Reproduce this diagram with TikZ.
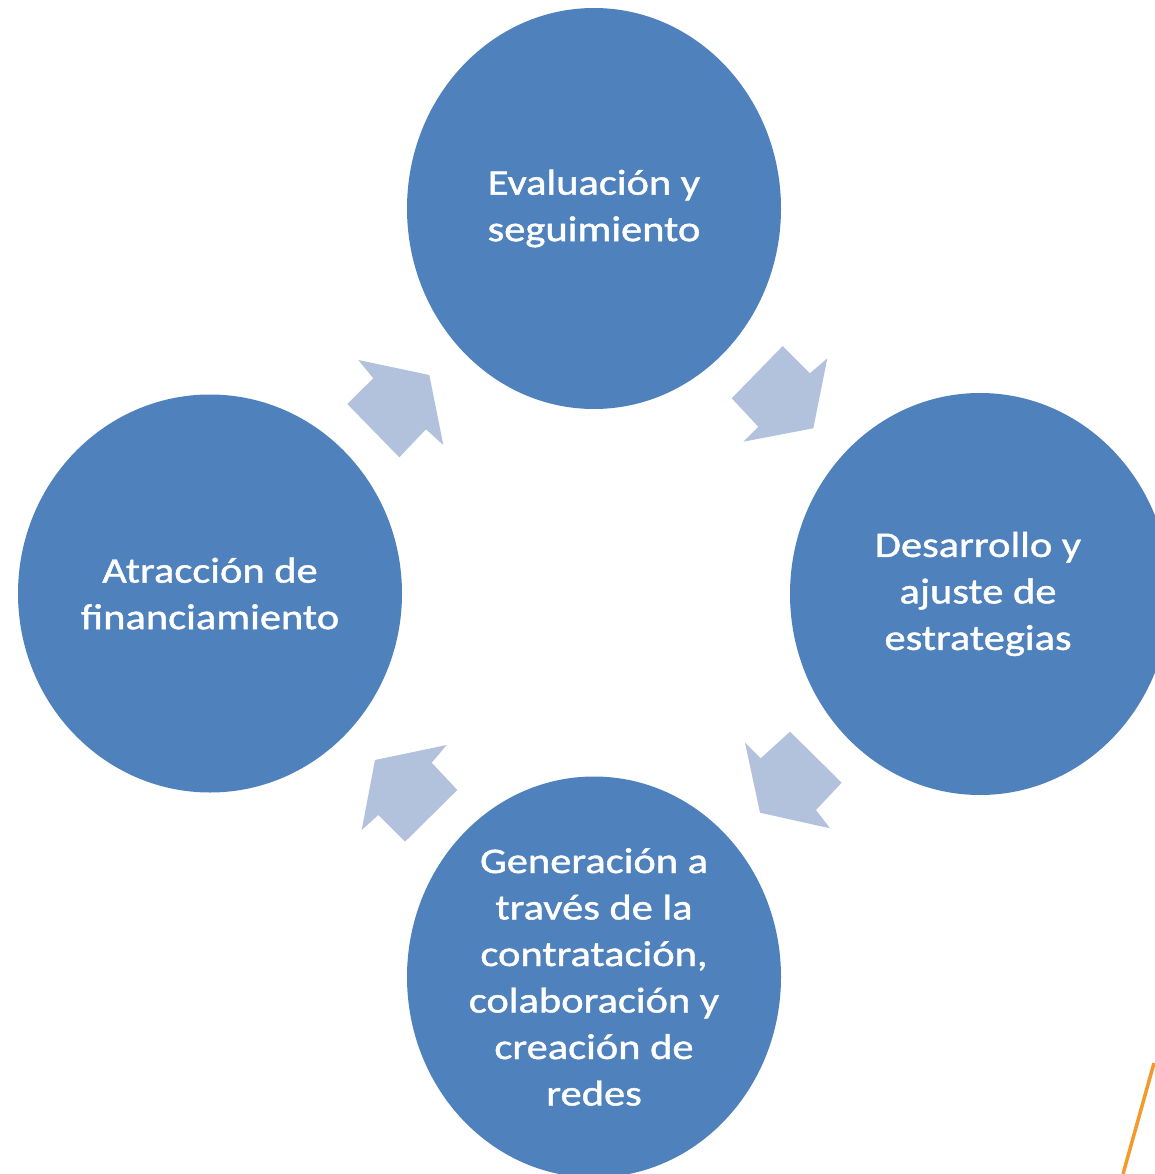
\documentclass[tikz,border=0pt]{standalone}
\usepackage{fontspec}
\setmainfont{Carlito}
\newfontfamily\stagefont[FakeStretch=1.18, FakeBold=1.2]{Carlito}
\usetikzlibrary{shapes.geometric}
\definecolor{cblue}{HTML}{4F81BD}
\definecolor{ablue}{HTML}{B3C2DC}
\definecolor{lorange}{HTML}{F39A2C}
\begin{document}
\begin{tikzpicture}[x=1pt,y=-1pt,
  stage/.style={ellipse, fill=cblue, draw=none, text=white, align=center,
    font=\stagefont\fontsize{36}{46.5}\selectfont, inner sep=0pt},
  blockarrow/.style={fill=ablue, draw=none}]
\useasboundingbox (0,0) rectangle (1154,1174);
\node[stage, minimum width=374pt, minimum height=401pt] (top) at (594,208.5) {Evaluación y\\seguimiento};
\node[stage, minimum width=380pt, minimum height=402pt] (right) at (980,594) {};
\node[white, align=center, font=\stagefont\fontsize{36}{46.5}\selectfont] (righttext) at (978,594) {Desarrollo y\\ajuste de\\estrategias};
\node[stage, minimum width=374pt, minimum height=401pt] (bottom) at (594,977) {Generación a\\través de la\\contratación,\\colaboración y\\creación de\\redes};
\node[stage, minimum width=384pt, minimum height=398pt] (left) at (210,593.5) {Atracción de\\financiamiento};
% block arrows
\fill[blockarrow] (827.3,358.3) -- (813.3,428.3) -- (743.3,441.7) -- (758.3,426.7) -- (731.7,398.3) -- (782.7,346) -- (810,373.3) -- cycle;
\fill[blockarrow] (745,742.7) -- (760.7,758.3) -- (790,731.7) -- (841.7,782.7) -- (816,810) -- (830,828.3) -- (760,812.7) -- cycle;
\fill[blockarrow] (446.7,745) -- (431.7,762.7) -- (457.3,790) -- (405,841.7) -- (378.3,815) -- (361.7,830) -- (375,760) -- cycle;
\fill[blockarrow] (358.3,360) -- (429.3,375) -- (443.3,445) -- (426,429.3) -- (399.3,457.3) -- (347.3,404) -- (373.3,378.3) -- cycle;
% orange line
\coordinate (o1) at (1154,1063);
\coordinate (o2) at (1123,1174);
\draw[lorange, line width=3.5pt] (o1) -- (o2);
\end{tikzpicture}
\end{document}
